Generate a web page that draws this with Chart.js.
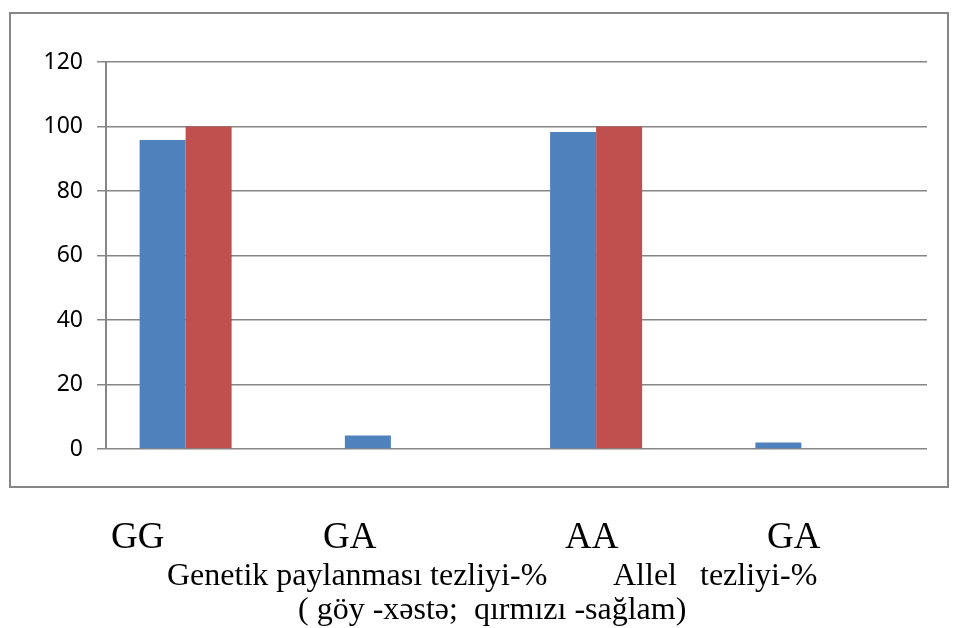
<!DOCTYPE html>
<html>
<head>
<meta charset="utf-8">
<script src="https://cdn.jsdelivr.net/npm/chart.js@4/dist/chart.umd.min.js"></script>
<style>
    html, body { margin: 0; padding: 0; background: #fff; }
    #wrap { position: relative; width: 959px; height: 628px; overflow: hidden; }
    #frame { position: absolute; left: 9px; top: 12px; width: 936px; height: 472px; border: 2px solid #868686; }
    #activity { position: absolute; left: 0; top: 0; }
    .cap { position: absolute; font-family: "Liberation Serif", "Times New Roman", serif; line-height: 1; white-space: pre; color: #000; }
</style>
</head>
<body>
<div id="wrap">
    <div id="frame"></div>
    <canvas id="activity" width="959" height="628"></canvas>
    <div class="cap" style="left:111px; top:517px; font-size:37px;">GG</div>
    <div class="cap" style="left:323px; top:517px; font-size:37px;">GA</div>
    <div class="cap" style="left:565px; top:517px; font-size:37px;">AA</div>
    <div class="cap" style="left:767px; top:517px; font-size:37px;">GA</div>
    <div class="cap" style="left:167px; top:558px; font-size:32px;">Genetik paylanması tezliyi-%</div>
    <div class="cap" style="left:613px; top:558px; font-size:32px;">Allel</div>
    <div class="cap" style="left:700px; top:558px; font-size:32px;">tezliyi-%</div>
    <div class="cap" style="left:298px; top:592px; font-size:32px;">( göy -xəstə;  qırmızı -sağlam)</div>
</div>
<script>
// Chart values
const categories = ['GG', 'GA', 'AA', 'GA'];
const sick = [95.8, 4.2, 98.3, 2];      // blue - xəstə
const healthy = [100, 0, 100, 0];       // red - sağlam
const third = [0, 0, 0, 0];             // empty third series (keeps Excel spacing)
const yTicks = [0, 20, 40, 60, 80, 100, 120];

const ctx = document.getElementById('activity').getContext('2d');

const myChart = new Chart(ctx, {
    type: 'bar',
    data: {
        labels: categories,
        datasets: [
            { label: 'xəstə', data: sick, backgroundColor: '#4F81BD', borderWidth: 0 },
            { label: 'sağlam', data: healthy, backgroundColor: '#C0504D', borderWidth: 0 },
            { label: '', data: third, backgroundColor: '#9BBB59', borderWidth: 0 }
        ]
    },
    options: {
        responsive: false,
        animation: false,
        layout: { padding: { left: 0, right: 32, top: 62, bottom: 179 } },
        plugins: { legend: { display: false }, tooltip: { enabled: false } },
        datasets: { bar: { categoryPercentage: 0.6725, barPercentage: 1 } },
        scales: {
            x: { display: false },
            y: {
                min: 0,
                max: 120,
                afterFit: function(scale) { scale.width = 106; },
                afterBuildTicks: function(scale) {
                    scale.ticks = yTicks.map(v => ({ value: v }));
                },
                border: { display: true, color: '#868686', width: 2 },
                grid: { color: '#868686', lineWidth: 1.5, tickLength: 9, drawTicks: true },
                ticks: {
                    padding: 14,
                    color: '#000',
                    font: { family: 'Noto Sans', size: 23 }
                }
            }
        }
    }
});
</script>
</body>
</html>
